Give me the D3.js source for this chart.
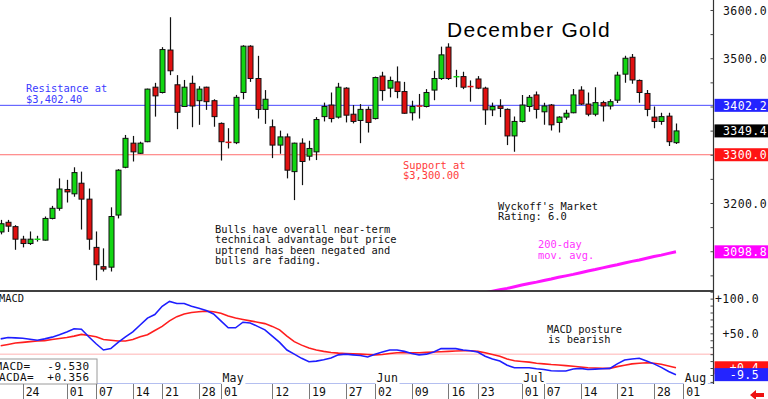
<!DOCTYPE html>
<html><head><meta charset="utf-8">
<script src="https://cdn.jsdelivr.net/npm/d3@7/dist/d3.min.js"></script>
<style>
body{margin:0;background:#fff;}
svg{display:block;font-family:"DejaVu Sans Mono",monospace;}
</style></head><body>
<svg id="c" width="768" height="399"></svg>
<script>
// ---------- DATA ----------
const dates = ["03-19","03-20","03-21","03-24","03-25","03-26","03-27","03-28","03-31",
"04-01","04-02","04-03","04-04","04-07","04-08","04-09","04-10","04-11","04-14","04-15","04-16","04-17","04-21","04-22","04-23","04-24","04-25","04-28","04-29","04-30",
"05-01","05-02","05-05","05-06","05-07","05-08","05-09","05-12","05-13","05-14","05-15","05-16","05-19","05-20","05-21","05-22","05-23","05-27","05-28","05-29","05-30",
"06-02","06-03","06-04","06-05","06-06","06-09","06-10","06-11","06-12","06-13","06-16","06-17","06-18","06-20","06-23","06-24","06-25","06-26","06-27","06-30",
"07-01","07-02","07-03","07-07","07-08","07-09","07-10","07-11","07-14","07-15","07-16","07-17","07-18","07-21","07-22","07-23","07-24","07-25","07-28","07-29","07-30","07-31",
"08-01"];
const open  = [3140,3160,3151,3125,3116,3124.6,3123,3168,3189,3228,3219,3241,3208,3108,3068,3067,3175,3274,3324,3303,3327,3440,3429,3517,3445,3400,3448,3412,3440,3412,
3365,3326,3325,3429,3525,3458,3394,3358,3320,3337,3265,3324,3297,3306,3379,3403,3378,3438,3384,3371,3394,
3375,3463,3438,3451,3431,3387,3401,3400,3434,3458,3523,3461.4,3462,3441.6,3457,3438,3393,3401,3394,3339,
3369,3400,3424,3389,3403,3367,3378,3387,3434,3405,3384,3408,3401,3413,3467,3502,3454,3427,3378,3369,3380,3325];
const high  = [3165,3165,3154,3132,3141,3132,3172,3194,3251,3248,3274,3265,3230,3141,3106,3191,3270,3341,3339,3327,3437,3449,3523,3585,3465,3455,3464,3442,3441,3415,
3367,3355,3424,3527,3527,3505,3434,3373,3350,3344,3325,3334,3329,3378,3408,3429,3449,3440,3403,3405,3400,
3462,3472,3462,3483,3451,3412,3426,3436,3474,3524,3531,3476,3472,3454,3463,3441,3408,3415,3396,3379,
3424,3424,3431,3408,3405,3380,3393,3436,3442,3429,3440,3412,3415,3472,3505,3509,3456,3434,3400,3387,3387,3365];
const low   = [3135,3140,3103,3108,3113,3120,3122,3166,3184,3201,3213,3145,3103,3040,3058,3058,3168,3272,3286,3302,3326,3379,3427,3465,3353,3400,3357,3362,3393,3358,
3288,3313,3322,3415,3451,3375,3364,3293,3302,3251,3206,3237,3288,3289,3369,3367,3375,3367,3365,3324,3346,
3373,3412,3419,3417,3385,3371,3375,3398,3413,3455,3455,3440,3436,3410,3436,3362,3380,3378,3320,3306,
3367,3389,3375,3362,3350,3346,3373,3386,3403,3380,3380,3369,3394,3407,3449,3447,3408,3380,3355,3362,3318,3322];
const close = [3157,3152,3125,3116,3125,3125,3168,3189,3229,3223,3263,3208,3125,3072,3063,3172,3268,3334,3306,3324,3436,3422,3518,3474,3388,3440,3401,3436,3410,3379,
3327,3325.4,3419,3525,3458,3394,3415,3320,3337,3268,3324,3286,3313,3373,3400,3375,3440,3382,3369,3394,3367,
3460,3433,3454,3431,3386,3400,3400.6,3429,3458,3507,3458,3462,3440,3441,3438,3393,3400,3396,3339,3369,
3403,3419,3394,3401,3362,3378,3386,3424,3405,3384,3408,3401,3410,3465,3500,3455,3429,3394,3369,3379,3327,3349.4];
// 200-day moving average, last 28 sessions (06-20 .. 07-31)
const ma200 = [3011,3014,3017,3020,3023,3026.5,3030,3033,3036,3039.5,3042.5,3046,3049,3052,3055.5,3059,3062,3065.5,3069,3072,3075.5,3079,3082,3085.5,3089,3092,3095.5,3098.8];
const macd = [42,44,43.5,43,41.5,40,42,44.5,48,52,
56.5,56,45,35,26,28,37,45,52,62,
72,77,89,96,93,93,89,86,83,78,
68,58,58,66,65,60,55,46,37,26,
20,14,9,10,12,14.5,19,20,19,18,
16,20,23,26,26,24,21,19,20,23,
28,28,28,26,25,23,17,13,10,4,
0.5,0.5,0.5,-1,-2,-4,-4.3,-4.3,-1.5,-0.5,
-2,-1.5,-1,-0.5,6,11.5,13,14,10,6,
1,-5,-9.53];
const signal = [32,34,36,37,38,39,39.5,41,42.5,44,
46,48.5,47,45,41,40,39,39,41,45,
48,54,60,68,74,78,80,81,82,81,
79,75,72,70,68,66,64,60,55,46,
38,33,29,26,24,22.5,21.5,21,20.5,20,
19.5,19,19.5,21,22,22,22,22,22.5,23,
23.5,24,24.5,25,25,24,22,19.5,17,13,
10.5,9.5,8.5,7,6,5,4.3,3.5,2.5,1.5,
0.5,0,-0.5,-0.5,2,4,6,7,7.6,7,
5.5,3,0.356];
const resistance = 3402.4, support = 3300.0, macdRef = 20;
const priceTicks = [3100,3200,3300,3400,3500,3600];
const priceMinor = [3050,3100,3150,3200,3250,3300,3350,3400,3450,3500,3550,3600];
const macdTicks = [50,100];
const macdMinor = [-20,-10,0,10,20,30,40,50,60,70,80,90,100,110];
const tickDates = ["03-24","04-01","04-07","04-14","04-21","04-28","05-01","05-12","05-19","05-27","06-02","06-09","06-16","06-23","07-01","07-07","07-14","07-21","07-28","08-01"];
const monthLabels = [["05-01","May"],["06-02","Jun"],["07-01","Jul"],["08-01","Aug"]];
const priceBoxes = [[resistance,"3402.2","#2424ff"],[close[close.length-1],"3349.4","#000"],[support,"3300.0","#ff1414"],[ma200[ma200.length-1],"3098.8","#ff00ff"]];
const macdBoxes = [[signal[signal.length-1],"+0.4","#ff1414"],[macd[macd.length-1],"-9.5","#2424ff"]];

// ---------- SCALES ----------
const svg = d3.select("#c");
const AX = 713.5;
const x = d3.scalePoint().domain(dates).range([0.68, 683.3]);
const y = d3.scaleLinear().domain([3017.6, 3620.7]).range([291, 0]);
const ym = d3.scaleLinear().domain([-23, 111]).range([384, 291]);
const candleDates = dates.slice(0, open.length);
const candles = candleDates.map((d,i)=>({d, o:open[i], h:high[i], l:low[i], c:close[i]}));

const defs = svg.append("defs");
defs.append("clipPath").attr("id","cp").append("rect").attr("x",0).attr("y",0).attr("width",AX).attr("height",290.5);
defs.append("clipPath").attr("id","cm").append("rect").attr("x",0).attr("y",291).attr("width",AX).attr("height",93);

// ---------- PRICE PANEL ----------
const gp = svg.append("g").attr("clip-path","url(#cp)");
gp.append("line").attr("x1",0).attr("x2",AX).attr("y1",y(resistance)).attr("y2",y(resistance)).attr("stroke","#4a4aff").attr("stroke-width",1);
gp.append("line").attr("x1",0).attr("x2",AX).attr("y1",y(support)).attr("y2",y(support)).attr("stroke","#ff6e6e").attr("stroke-width",1);

const cg = gp.append("g");
const bw = 5;
candles.forEach(k=>{
  const cx = Math.round(x(k.d)) + 0.5;
  const up = k.c >= k.o;
  const col = up ? "#12d612" : "#e01010";
  cg.append("line").attr("x1",cx).attr("x2",cx).attr("y1",y(k.h)).attr("y2",y(k.l)).attr("stroke","#111").attr("stroke-width",1.2);
  const yt = y(Math.max(k.o,k.c)), yb = y(Math.min(k.o,k.c));
  if (yb - yt < 1.5) {
    cg.append("line").attr("x1",cx-3).attr("x2",cx+3).attr("y1",(yt+yb)/2).attr("y2",(yt+yb)/2).attr("stroke",col).attr("stroke-width",1.5);
  } else {
    cg.append("rect").attr("x",cx-bw/2).attr("y",yt).attr("width",bw).attr("height",yb-yt)
      .attr("fill",col).attr("stroke","#111").attr("stroke-width",1);
  }
});

const maDates = candleDates.slice(candleDates.length - ma200.length);
gp.append("path").datum(ma200).attr("fill","none").attr("stroke","#ff14ff").attr("stroke-width",3)
  .attr("d", d3.line().x((v,i)=>x(maDates[i])).y(v=>y(v)));

// texts
const T = (tx,ty,s,col,opt={})=>svg.append("text").attr("x",tx).attr("y",ty).text(s)
  .attr("fill",col).attr("font-size",opt.fs||10.4).attr("letter-spacing",opt.ls||0)
  .attr("font-family",opt.ff||null).attr("text-anchor",opt.anchor||"start").style("white-space","pre");

T(447,37,"December Gold","#000",{fs:21,ls:1.3,ff:"'Liberation Sans',Arial,sans-serif"});
T(26,92,"Resistance at","#3a3aff");
T(26,102.5,"$3,402.40","#3a3aff");
T(403,168.5,"Support at","#ff3b3b");
T(403,178.5,"$3,300.00","#ff3b3b");
["Bulls have overall near-term","technical advantage but price","uptrend has been negated and","bulls are fading."]
  .forEach((s,i)=>T(215,233+i*10.3,s,"#111"));
T(498,209.5,"Wyckoff's Market","#111");
T(498,220,"Rating: 6.0","#111");
T(538,248,"200-day","#ff33ff");
T(538,259,"mov. avg.","#ff33ff");

// separator
svg.append("line").attr("x1",0).attr("x2",AX).attr("y1",291).attr("y2",291).attr("stroke","#000").attr("stroke-width",1.6);

// ---------- MACD PANEL ----------
const gm = svg.append("g").attr("clip-path","url(#cm)");
gm.append("line").attr("x1",0).attr("x2",AX).attr("y1",ym(macdRef)).attr("y2",ym(macdRef)).attr("stroke","#ffb4b4").attr("stroke-width",1);
const ml = d3.line().x((v,i)=>x(candleDates[i])).y(v=>ym(v));
gm.append("path").datum(signal).attr("fill","none").attr("stroke","#ff1e1e").attr("stroke-width",1.6).attr("d",ml);
gm.append("path").datum(macd).attr("fill","none").attr("stroke","#1e1eff").attr("stroke-width",1.6).attr("d",ml);
T(-1,302,"MACD","#111");
T(547,332.5,"MACD posture","#111");
T(548,342.5,"is bearish","#111");

// bottom line of macd panel
svg.append("line").attr("x1",0).attr("x2",AX).attr("y1",383.5).attr("y2",383.5).attr("stroke","#b4bff0").attr("stroke-width",1.2);

// macd value box
svg.append("rect").attr("x",-1).attr("y",359).attr("width",98).attr("height",25).attr("fill","#fff").attr("stroke","#9a9a9a").attr("stroke-width",1);
T(30.5,369.5,"MACD=","#111",{fs:11,ls:0.4,anchor:"end"});
T(89.5,369.5,d3.format("+.3f")(macd[macd.length-1]).replace("\u2212","-"),"#111",{fs:11,ls:0.4,anchor:"end"});
T(34,381,"MACDA=","#111",{fs:11,ls:0.4,anchor:"end"});
T(89.5,381,d3.format("+.3f")(signal[signal.length-1]),"#111",{fs:11,ls:0.4,anchor:"end"});

// month labels
monthLabels.forEach(([d,s])=>{
  const tx = x(d)+1.5;
  svg.append("rect").attr("x",tx-1).attr("y",372).attr("width",24).attr("height",12).attr("fill","#fff");
  T(tx,381.5,s,"#111",{fs:11.5,ls:0.3});
});

// ---------- AXES ----------
// date axis
const xa = svg.append("g").attr("transform","translate(0,384)")
  .call(d3.axisBottom(x).tickValues(tickDates).tickSize(15).tickFormat(d=>d.slice(3)));
xa.select(".domain").remove();
xa.selectAll(".tick line").attr("stroke","#7a7a7a").attr("shape-rendering","crispEdges");
xa.selectAll(".tick text").attr("x",2.5).attr("y",12).attr("dy",0).attr("text-anchor","start")
  .attr("font-size",11.5).attr("font-family","'DejaVu Sans Mono',monospace").attr("fill","#111");

// vertical axis line
svg.append("line").attr("x1",AX).attr("x2",AX).attr("y1",0).attr("y2",384).attr("stroke","#333").attr("stroke-width",1.2);

// price axis
const pa = svg.append("g").attr("transform",`translate(${AX},0)`)
  .call(d3.axisRight(y).tickValues(priceTicks).tickSize(0).tickFormat(d3.format(".1f")));
pa.select(".domain").remove();
pa.selectAll(".tick text").attr("x",767-AX).attr("dy","0.36em").attr("text-anchor","end")
  .attr("font-size",11.5).attr("letter-spacing",0.4).attr("font-family","'DejaVu Sans Mono',monospace").attr("fill","#111");
const pm = svg.append("g").attr("transform",`translate(${AX},0)`)
  .call(d3.axisLeft(y).tickValues(priceMinor).tickSize(3).tickFormat(""));
pm.select(".domain").remove();
pm.selectAll(".tick line").attr("stroke","#444");

// macd axis
const ma = svg.append("g").attr("transform",`translate(${AX},0)`)
  .call(d3.axisRight(ym).tickValues(macdTicks).tickSize(0).tickFormat(d=>"+"+d.toFixed(1)));
ma.select(".domain").remove();
ma.selectAll(".tick text").attr("x",759-AX).attr("dy","0.36em").attr("text-anchor","end")
  .attr("font-size",11.5).attr("letter-spacing",0.4).attr("font-family","'DejaVu Sans Mono',monospace").attr("fill","#111");
const mm = svg.append("g").attr("transform",`translate(${AX},0)`)
  .call(d3.axisLeft(ym).tickValues(macdMinor).tickSize(3).tickFormat(""));
mm.select(".domain").remove();
mm.selectAll(".tick line").attr("stroke","#444");

// value boxes
priceBoxes.forEach(([v,s,col])=>{
  const cy = y(v);
  svg.append("rect").attr("x",AX+1).attr("y",cy-6.5).attr("width",768-AX).attr("height",13).attr("fill",col);
  T(767,cy+4.3,s,"#fff",{fs:11.5,ls:0.4,anchor:"end"});
});
macdBoxes.forEach(([v,s,col])=>{
  const cy = ym(v);
  svg.append("rect").attr("x",AX+1).attr("y",cy-6.5).attr("width",768-AX).attr("height",13).attr("fill",col);
  T(759,cy+4.3,s,"#fff",{fs:11.5,ls:0.4,anchor:"end"});
});

// red arrow
svg.append("path").attr("d","M750,395 L756,390 L756,393 L764,393 L764,397 L756,397 L756,400 Z").attr("fill","#ee1111");
</script>
</body></html>
